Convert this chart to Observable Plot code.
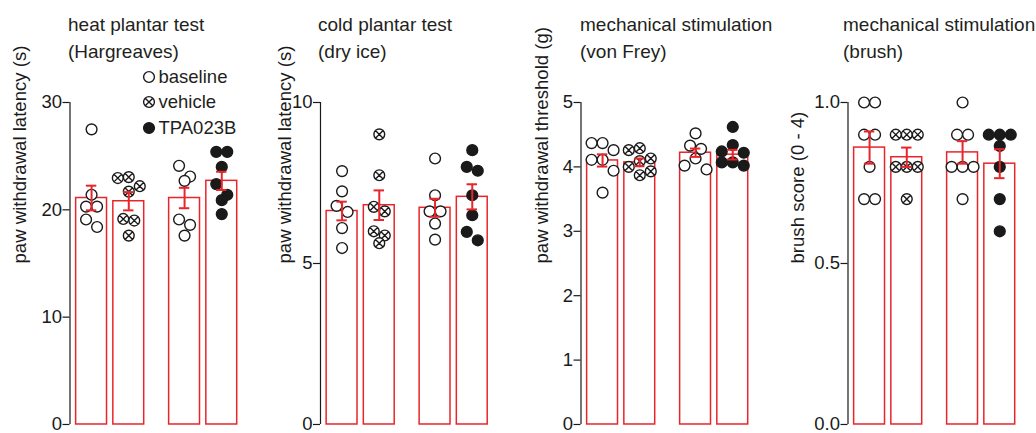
<!DOCTYPE html>
<html>
<head>
<meta charset="utf-8">
<script src="https://cdn.jsdelivr.net/npm/d3@7"></script>
<script src="https://cdn.jsdelivr.net/npm/@observablehq/plot@0.6"></script>
<style>
  body { margin: 0; background: #fff; }
  #wrap { position: relative; width: 1036px; height: 433px; overflow: hidden;
          font-family: "Liberation Sans", Arial, sans-serif; color: #231f20; }
  .title { position: absolute; top: 12px; font-size: 19px; line-height: 26.5px; white-space: nowrap; }
  .panel { position: absolute; top: 0; }
  .lg { position: absolute; display: flex; align-items: center; font-size: 18.5px; height: 24px; white-space: nowrap; }
</style>
</head>
<body>
<div id="wrap"></div>
<script>
// ---------- data ----------
const groups = ["baseline", "vehicle", "baseline", "TPA023B"];
const legendLabels = ["baseline", "vehicle", "TPA023B"];

const titles = [
  ["heat plantar test", "(Hargreaves)"],
  ["cold plantar test", "(dry ice)"],
  ["mechanical stimulation", "(von Frey)"],
  ["mechanical stimulation", "(brush)"]
];
const yLabels = ["paw withdrawal latency (s)", "paw withdrawal latency (s)", "paw withdrawal threshold (g)", "brush score (0 - 4)"];
const yMaxes = [30, 10, 5, 1];
const heatTicks = [0, 10, 20, 30];
const coldTicks = [0, 5, 10];
const vfTicks = [0, 1, 2, 3, 4, 5];
const brushTicks = [0, 0.5, 1];

const heatPoints = [
  [27.5, 21.4, 20.3, 20.3, 19.1, 18.4],
  [23.05, 22.96, 22.2, 21.7, 19.15, 19.0, 17.6],
  [24.1, 23.1, 22.7, 19.1, 18.6, 17.6],
  [25.4, 25.4, 24.0, 22.4, 21.4, 20.9, 19.6]
];
const heatMean = [21.1, 20.8, 21.1, 22.7];
const heatSem = [1.15, 0.85, 0.95, 0.85];

const coldPoints = [
  [7.87, 7.24, 6.79, 6.60, 6.10, 5.48],
  [9.01, 7.74, 6.76, 6.62, 6.00, 5.87, 5.63],
  [8.26, 7.12, 6.62, 6.62, 6.24, 5.74],
  [8.52, 8.00, 7.88, 7.12, 6.50, 5.98, 5.72]
];
const coldMean = [6.63, 6.81, 6.73, 7.07];
const coldSem = [0.29, 0.46, 0.28, 0.39];

const vfPoints = [
  [4.37, 4.37, 4.26, 4.11, 4.11, 3.94, 3.60],
  [4.29, 4.26, 4.13, 4.09, 4.00, 3.93, 3.87],
  [4.52, 4.33, 4.28, 4.13, 4.02, 3.96],
  [4.62, 4.34, 4.24, 4.22, 4.07, 4.07, 4.02]
];
const vfMean = [4.10, 4.07, 4.22, 4.19];
const vfSem = [0.095, 0.06, 0.065, 0.075];

const brushPoints = [
  [1.0, 1.0, 0.9, 0.9, 0.8, 0.7, 0.7],
  [0.9, 0.9, 0.9, 0.8, 0.8, 0.8, 0.7],
  [1.0, 0.9, 0.9, 0.8, 0.8, 0.8, 0.7],
  [0.9, 0.9, 0.9, 0.865, 0.8, 0.7, 0.6]
];
const brushMean = [0.86, 0.83, 0.845, 0.81];
const brushSem = [0.05, 0.03, 0.035, 0.045];

// ---------- layout / style ----------
const RED = "#e8252b";
const INK = "#1a1a1a";
const FONT = "'Liberation Sans', Arial, sans-serif";
const H = 433, MT = 102, MB = 9;
const UNIT = 37.2;             // px per x unit
const XD = [0.42, 5.08];       // x domain
const R = 5.4;                 // dot radius
const D = 11;                  // dodge spacing (px)

const panels = [
  {points: heatPoints, mean: heatMean, sem: heatSem, ticks: heatTicks, fmt: d3.format("d"), left: 0, axisX: 69.5, labelOffset: 50, titleX: 68},
  {points: coldPoints, mean: coldMean, sem: coldSem, ticks: coldTicks, fmt: d3.format("d"), left: 255, axisX: 320, labelOffset: 35, titleX: 318},
  {points: vfPoints, mean: vfMean, sem: vfSem, ticks: vfTicks, fmt: d3.format("d"), left: 515, axisX: 580.5, labelOffset: 39, titleX: 580},
  {points: brushPoints, mean: brushMean, sem: brushSem, ticks: brushTicks, fmt: d3.format(".1f"), left: 775, axisX: 847.5, labelOffset: 50, titleX: 843}
];

const crossCircle = {
  draw(ctx, size) {
    const r = Math.sqrt(size / Math.PI);
    ctx.moveTo(r, 0);
    ctx.arc(0, 0, r, 0, 2 * Math.PI);
    const d = r * Math.SQRT1_2;
    ctx.moveTo(-d, -d); ctx.lineTo(d, d);
    ctx.moveTo(-d, d); ctx.lineTo(d, -d);
  }
};

function slotOrder(n) {
  return d3.range(n).map(k => k - (n - 1) / 2).sort((a, b) => Math.abs(a) - Math.abs(b) || a - b);
}
// row-based dodge (layout only): points whose pixel heights are within D share a centred row
function dodge(values, pxPerUnit) {
  const idx = d3.range(values.length).sort((a, b) => values[b] - values[a]);
  const out = new Array(values.length).fill(0);
  let row = [], start = 0;
  const flush = () => {
    const s = slotOrder(row.length);
    row.forEach((i, k) => out[i] = s[k] * D);
    row = [];
  };
  for (const i of idx) {
    const py = values[i] * pxPerUnit;
    if (row.length && start - py < D) row.push(i);
    else { if (row.length) flush(); row = [i]; start = py; }
  }
  if (row.length) flush();
  return out;
}

const wrap = document.getElementById("wrap");

panels.forEach((p, pi) => {
  const ymax = yMaxes[pi];
  const pxPerUnit = (H - MT - MB) / ymax;
  const pts = [], bars = [];
  p.points.forEach((vals, g) => {
    const pos = g + 1 + (g > 1 ? 0.5 : 0);
    const off = dodge(vals, pxPerUnit);
    vals.forEach((v, k) => pts.push({group: groups[g], g, pos, value: v, dx: off[k] / UNIT}));
    bars.push({group: groups[g], pos, mean: p.mean[g], sem: p.sem[g]});
  });
  const ML = p.axisX - p.left;
  const MR = 6;
  const W = ML + (XD[1] - XD[0]) * UNIT + MR;
  const hw = 0.415, cap = 0.14;

  const chart = Plot.plot({
    width: W, height: H,
    marginLeft: ML, marginRight: MR, marginTop: MT, marginBottom: MB,
    style: {fontFamily: FONT, color: INK, background: "transparent", overflow: "visible"},
    x: {domain: XD, axis: null},
    y: {domain: [0, ymax]},
    marks: [
      Plot.rect(bars, {x1: d => d.pos - hw, x2: d => d.pos + hw, y1: 0, y2: "mean", fill: "white", stroke: RED, strokeWidth: 1.5}),
      Plot.dot(pts.filter(d => d.g === 0 || d.g === 2), {x: d => d.pos + d.dx, y: "value", r: R, fill: "white", stroke: INK, strokeWidth: 1.4}),
      Plot.dot(pts.filter(d => d.g === 1), {x: d => d.pos + d.dx, y: "value", r: R, symbol: crossCircle, fill: "white", stroke: INK, strokeWidth: 1.4}),
      Plot.dot(pts.filter(d => d.g === 3), {x: d => d.pos + d.dx, y: "value", r: R, fill: INK, stroke: INK, strokeWidth: 1.4}),
      Plot.ruleX(bars, {x: "pos", y1: d => d.mean - d.sem, y2: d => d.mean + d.sem, stroke: RED, strokeWidth: 2}),
      Plot.ruleY(bars, {y: d => d.mean + d.sem, x1: d => d.pos - cap, x2: d => d.pos + cap, stroke: RED, strokeWidth: 2}),
      Plot.ruleY(bars, {y: d => d.mean - d.sem, x1: d => d.pos - cap, x2: d => d.pos + cap, stroke: RED, strokeWidth: 2}),
      Plot.ruleX([XD[0]], {y1: 0, y2: ymax, stroke: INK, strokeWidth: 1.2}),
      Plot.axisY({ticks: p.ticks, tickFormat: p.fmt, tickSize: 7, tickPadding: 1, fontSize: 18.5, stroke: INK, strokeWidth: 1.2, label: null}),
      Plot.text([yLabels[pi]], {text: d => d, frameAnchor: "left", dx: -p.labelOffset, rotate: -90, fontSize: 18.6, fill: INK})
    ]
  });
  chart.classList.add("panel");
  chart.style.left = p.left + "px";
  wrap.appendChild(chart);

  const t = document.createElement("div");
  t.className = "title";
  t.style.left = p.titleX + "px";
  t.innerHTML = titles[pi].map(s => `<div>${s}</div>`).join("");
  wrap.appendChild(t);
});

// legend (in the first panel)
const legendY = [77.3, 102.3, 127.8];
legendLabels.forEach((lab, i) => {
  const row = document.createElement("div");
  row.className = "lg";
  row.style.left = "141.5px";
  row.style.top = (legendY[i] - 12) + "px";
  const s = 14, c = 7, r = R;
  let sym;
  if (i === 0) sym = `<circle cx="${c}" cy="${c}" r="${r}" fill="white" stroke="${INK}" stroke-width="1.4"/>`;
  else if (i === 1) {
    const d = r * Math.SQRT1_2;
    sym = `<circle cx="${c}" cy="${c}" r="${r}" fill="white" stroke="${INK}" stroke-width="1.4"/>` +
          `<path d="M${c - d},${c - d}L${c + d},${c + d}M${c - d},${c + d}L${c + d},${c - d}" stroke="${INK}" stroke-width="1.4"/>`;
  } else sym = `<circle cx="${c}" cy="${c}" r="${r}" fill="${INK}" stroke="${INK}" stroke-width="1.4"/>`;
  row.innerHTML = `<svg width="${s}" height="${s}" style="margin-right:3px">${sym}</svg><span>${lab}</span>`;
  wrap.appendChild(row);
});
</script>
</body>
</html>
